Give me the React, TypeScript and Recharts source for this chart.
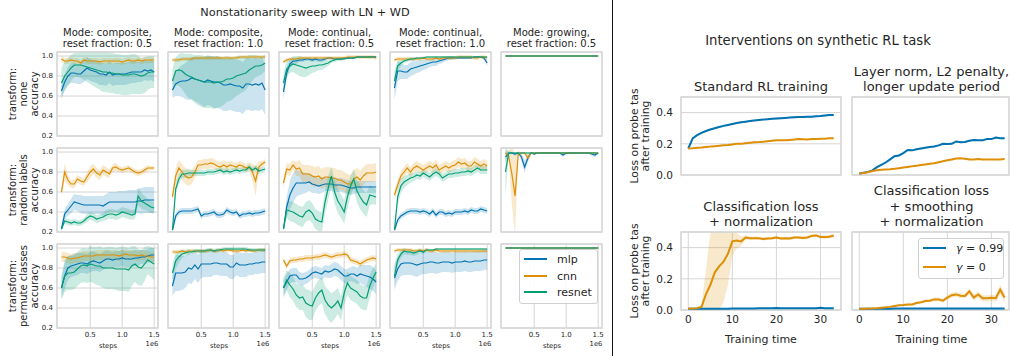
import React from 'react'
import { ComposedChart, Line, Area, XAxis, YAxis, CartesianGrid, ReferenceArea } from 'recharts'

const FONT = '"DejaVu Sans", sans-serif'
const INK = '#262626'
const GRID = '#d6d6d6'
const BLUE = '#0173b2'
const ORANGE = '#de8f05'
const GREEN = '#029e73'

// ---- left grid: x in units of 1e6 steps ----
const steps = [0.05, 0.1, 0.15, 0.2, 0.25, 0.3, 0.35, 0.4, 0.45, 0.5, 0.55, 0.6, 0.65, 0.7, 0.75, 0.8, 0.85, 0.9, 0.95, 1.0, 1.05, 1.1, 1.15, 1.2, 1.25, 1.3, 1.35, 1.4, 1.45, 1.5]

const modeTitles = [
  ['Mode: composite,', 'reset fraction: 0.5'],
  ['Mode: composite,', 'reset fraction: 1.0'],
  ['Mode: continual,', 'reset fraction: 0.5'],
  ['Mode: continual,', 'reset fraction: 1.0'],
  ['Mode: growing,', 'reset fraction: 0.5'],
]
const rowLabels = [
  ['transform:', 'none', 'accuracy'],
  ['transform:', 'random labels', 'accuracy'],
  ['transform:', 'permute classes', 'accuracy'],
]

const flatTop = [1.0, 1.0, 1.0, 1.0, 1.0, 1.0, 1.0, 1.0, 1.0, 1.0, 1.0, 1.0, 1.0, 1.0, 1.0, 1.0, 1.0, 1.0, 1.0, 1.0, 1.0, 1.0, 1.0, 1.0, 1.0, 1.0, 1.0, 1.0, 1.0, 1.0]
const sdThin = [0.002, 0.002, 0.002, 0.002, 0.002, 0.002, 0.002, 0.002, 0.002, 0.002, 0.002, 0.002, 0.002, 0.002, 0.002, 0.002, 0.002, 0.002, 0.002, 0.002, 0.002, 0.002, 0.002, 0.002, 0.002, 0.002, 0.002, 0.002, 0.002, 0.002]
const sdSmall = [0.02, 0.02, 0.02, 0.02, 0.02, 0.02, 0.02, 0.02, 0.02, 0.02, 0.02, 0.02, 0.02, 0.02, 0.02, 0.02, 0.02, 0.02, 0.02, 0.02, 0.02, 0.02, 0.02, 0.02, 0.02, 0.02, 0.02, 0.02, 0.02, 0.02]
const sdMid = [0.03, 0.03, 0.03, 0.03, 0.03, 0.03, 0.03, 0.03, 0.03, 0.03, 0.03, 0.03, 0.03, 0.03, 0.03, 0.03, 0.03, 0.03, 0.03, 0.03, 0.03, 0.03, 0.03, 0.03, 0.03, 0.03, 0.03, 0.03, 0.03, 0.03]
const sdWide = [0.05, 0.05, 0.05, 0.05, 0.05, 0.05, 0.05, 0.05, 0.05, 0.05, 0.05, 0.05, 0.05, 0.05, 0.05, 0.05, 0.05, 0.05, 0.05, 0.05, 0.05, 0.05, 0.05, 0.05, 0.05, 0.05, 0.05, 0.05, 0.05, 0.05]

// row 1: transform none
const mlpNone = [
  [0.65, 0.74, 0.80, 0.83, 0.83, 0.82, 0.82, 0.85, 0.88, 0.86, 0.85, 0.84, 0.82, 0.82, 0.81, 0.84, 0.81, 0.82, 0.82, 0.82, 0.82, 0.83, 0.84, 0.84, 0.84, 0.84, 0.86, 0.85, 0.86, 0.84],
  [0.66, 0.72, 0.74, 0.75, 0.75, 0.76, 0.78, 0.77, 0.76, 0.75, 0.74, 0.76, 0.75, 0.74, 0.74, 0.73, 0.71, 0.71, 0.72, 0.71, 0.70, 0.70, 0.68, 0.72, 0.72, 0.71, 0.72, 0.71, 0.73, 0.66],
  [0.64, 0.83, 0.92, 0.95, 0.95, 0.96, 0.96, 0.97, 0.97, 0.96, 0.97, 0.96, 0.96, 0.97, 0.98, 0.98, 0.97, 0.97, 0.97, 0.98, 0.98, 0.98, 0.98, 0.99, 0.99, 0.99, 0.99, 0.99, 0.99, 0.99],
  [0.68, 0.85, 0.85, 0.84, 0.84, 0.87, 0.88, 0.89, 0.90, 0.91, 0.92, 0.93, 0.94, 0.94, 0.95, 0.96, 0.97, 0.98, 0.98, 0.98, 0.98, 0.98, 0.98, 0.98, 0.98, 0.99, 0.99, 0.99, 0.98, 0.93],
  flatTop,
]
const mlpNoneSd = [
  [0.07, 0.08, 0.09, 0.10, 0.10, 0.10, 0.10, 0.11, 0.11, 0.11, 0.11, 0.11, 0.11, 0.11, 0.11, 0.11, 0.11, 0.11, 0.11, 0.11, 0.11, 0.11, 0.11, 0.11, 0.10, 0.10, 0.10, 0.10, 0.10, 0.10],
  [0.08, 0.12, 0.14, 0.16, 0.18, 0.20, 0.21, 0.22, 0.23, 0.24, 0.25, 0.25, 0.25, 0.26, 0.26, 0.26, 0.26, 0.26, 0.26, 0.26, 0.26, 0.26, 0.26, 0.26, 0.26, 0.26, 0.26, 0.26, 0.26, 0.25],
  [0.08, 0.06, 0.04, 0.03, 0.03, 0.02, 0.02, 0.02, 0.02, 0.02, 0.02, 0.02, 0.02, 0.02, 0.01, 0.01, 0.01, 0.01, 0.01, 0.01, 0.01, 0.01, 0.01, 0.01, 0.01, 0.01, 0.01, 0.01, 0.01, 0.01],
  [0.12, 0.10, 0.08, 0.07, 0.07, 0.07, 0.07, 0.06, 0.06, 0.05, 0.05, 0.04, 0.04, 0.04, 0.03, 0.03, 0.02, 0.02, 0.02, 0.01, 0.01, 0.01, 0.01, 0.01, 0.01, 0.01, 0.01, 0.01, 0.02, 0.03],
  sdThin,
]
const cnnNone = [
  [0.97, 0.95, 0.95, 0.96, 0.95, 0.95, 0.93, 0.96, 0.95, 0.95, 0.95, 0.95, 0.94, 0.95, 0.95, 0.95, 0.95, 0.95, 0.95, 0.94, 0.95, 0.96, 0.95, 0.95, 0.96, 0.95, 0.96, 0.96, 0.96, 0.96],
  [0.96, 0.96, 0.96, 0.97, 0.97, 0.97, 0.97, 0.98, 0.98, 0.98, 0.98, 0.98, 0.98, 0.98, 0.98, 0.98, 0.98, 0.98, 0.98, 0.98, 0.98, 0.99, 0.99, 0.99, 0.99, 0.99, 0.99, 0.99, 0.99, 0.99],
  [0.94, 0.96, 0.97, 0.97, 0.97, 0.98, 0.98, 0.98, 0.98, 0.98, 0.98, 0.98, 0.98, 0.98, 0.98, 0.98, 0.98, 0.98, 0.98, 0.98, 0.99, 0.99, 0.99, 0.99, 0.99, 0.99, 0.99, 0.99, 0.99, 0.98],
  [0.96, 0.97, 0.97, 0.97, 0.97, 0.97, 0.97, 0.97, 0.97, 0.98, 0.97, 0.97, 0.97, 0.98, 0.97, 0.98, 0.98, 0.98, 0.98, 0.98, 0.99, 0.99, 0.99, 0.99, 0.99, 0.98, 0.98, 0.99, 0.99, 0.98],
  flatTop,
]
const cnnNoneSd = [sdMid, sdSmall, sdSmall, sdSmall, sdThin]
const resnetNone = [
  [0.73, 0.80, 0.84, 0.88, 0.91, 0.91, 0.91, 0.90, 0.89, 0.88, 0.87, 0.86, 0.85, 0.84, 0.84, 0.83, 0.83, 0.82, 0.82, 0.81, 0.81, 0.81, 0.82, 0.82, 0.81, 0.80, 0.81, 0.83, 0.84, 0.84],
  [0.75, 0.85, 0.86, 0.85, 0.82, 0.80, 0.79, 0.77, 0.76, 0.75, 0.74, 0.74, 0.74, 0.73, 0.74, 0.74, 0.75, 0.77, 0.77, 0.78, 0.80, 0.81, 0.82, 0.83, 0.86, 0.88, 0.90, 0.90, 0.91, 0.93],
  [0.73, 0.87, 0.90, 0.92, 0.91, 0.90, 0.89, 0.88, 0.89, 0.90, 0.90, 0.91, 0.91, 0.92, 0.93, 0.95, 0.96, 0.97, 0.97, 0.97, 0.98, 0.98, 0.98, 0.99, 0.99, 0.99, 0.99, 0.99, 0.99, 0.99],
  [0.75, 0.90, 0.93, 0.95, 0.96, 0.97, 0.97, 0.98, 0.98, 0.98, 0.99, 0.99, 0.99, 0.99, 0.99, 0.99, 0.99, 0.99, 0.99, 0.99, 0.99, 0.99, 0.99, 0.99, 0.99, 0.99, 0.99, 0.99, 0.99, 0.99],
  flatTop,
]
const resnetNoneSd = [
  [0.15, 0.15, 0.14, 0.13, 0.12, 0.12, 0.13, 0.14, 0.15, 0.16, 0.17, 0.18, 0.19, 0.20, 0.20, 0.20, 0.20, 0.20, 0.20, 0.20, 0.20, 0.20, 0.20, 0.20, 0.19, 0.18, 0.18, 0.17, 0.16, 0.16],
  [0.12, 0.14, 0.16, 0.18, 0.20, 0.22, 0.23, 0.24, 0.25, 0.26, 0.26, 0.26, 0.26, 0.26, 0.26, 0.25, 0.24, 0.23, 0.22, 0.21, 0.20, 0.19, 0.18, 0.17, 0.15, 0.13, 0.11, 0.10, 0.09, 0.08],
  [0.10, 0.08, 0.07, 0.08, 0.09, 0.10, 0.10, 0.09, 0.08, 0.07, 0.06, 0.05, 0.05, 0.04, 0.03, 0.02, 0.02, 0.02, 0.02, 0.01, 0.01, 0.01, 0.01, 0.01, 0.01, 0.01, 0.01, 0.01, 0.01, 0.01],
  [0.10, 0.05, 0.03, 0.02, 0.02, 0.02, 0.02, 0.01, 0.01, 0.01, 0.01, 0.01, 0.01, 0.01, 0.01, 0.01, 0.01, 0.01, 0.01, 0.01, 0.01, 0.01, 0.01, 0.01, 0.01, 0.01, 0.01, 0.01, 0.01, 0.01],
  sdThin,
]

// row 2: transform random labels
const mlpRandom = [
  [0.23, 0.38, 0.42, 0.46, 0.50, 0.49, 0.48, 0.47, 0.47, 0.47, 0.47, 0.47, 0.47, 0.46, 0.48, 0.50, 0.50, 0.50, 0.50, 0.50, 0.50, 0.50, 0.50, 0.50, 0.51, 0.51, 0.52, 0.52, 0.52, 0.52],
  [0.22, 0.36, 0.40, 0.41, 0.41, 0.41, 0.41, 0.42, 0.43, 0.36, 0.38, 0.38, 0.39, 0.40, 0.37, 0.37, 0.38, 0.42, 0.40, 0.39, 0.40, 0.36, 0.38, 0.38, 0.39, 0.38, 0.39, 0.39, 0.40, 0.41],
  [0.23, 0.45, 0.57, 0.64, 0.69, 0.69, 0.69, 0.69, 0.70, 0.68, 0.67, 0.66, 0.67, 0.68, 0.68, 0.68, 0.67, 0.67, 0.67, 0.66, 0.65, 0.64, 0.64, 0.65, 0.65, 0.65, 0.65, 0.65, 0.65, 0.65],
  [0.22, 0.32, 0.36, 0.38, 0.40, 0.41, 0.41, 0.41, 0.40, 0.41, 0.40, 0.38, 0.41, 0.37, 0.40, 0.40, 0.38, 0.39, 0.38, 0.40, 0.40, 0.40, 0.41, 0.40, 0.42, 0.41, 0.41, 0.43, 0.42, 0.41],
  [0.95, 0.99, 0.99, 0.98, 0.99, 0.95, 0.85, 0.94, 0.99, 0.98, 0.99, 0.99, 0.99, 0.99, 0.99, 0.99, 0.99, 0.99, 0.97, 0.99, 0.99, 0.99, 0.99, 0.99, 0.99, 0.99, 0.99, 0.98, 0.97, 0.99],
]
const mlpRandomSd = [
  [0.02, 0.05, 0.06, 0.07, 0.08, 0.08, 0.09, 0.09, 0.09, 0.09, 0.09, 0.09, 0.09, 0.10, 0.10, 0.10, 0.10, 0.10, 0.11, 0.11, 0.11, 0.12, 0.12, 0.12, 0.12, 0.13, 0.13, 0.13, 0.13, 0.13],
  sdMid,
  [0.02, 0.10, 0.14, 0.15, 0.14, 0.12, 0.11, 0.10, 0.09, 0.09, 0.08, 0.08, 0.08, 0.07, 0.07, 0.07, 0.07, 0.07, 0.07, 0.07, 0.07, 0.07, 0.06, 0.06, 0.06, 0.06, 0.06, 0.06, 0.06, 0.06],
  sdMid,
  [0.05, 0.01, 0.01, 0.02, 0.01, 0.04, 0.06, 0.04, 0.01, 0.01, 0.01, 0.01, 0.01, 0.01, 0.01, 0.01, 0.01, 0.01, 0.02, 0.01, 0.01, 0.01, 0.01, 0.01, 0.01, 0.01, 0.01, 0.02, 0.02, 0.01],
]
const cnnRandom = [
  [0.60, 0.80, 0.72, 0.68, 0.68, 0.73, 0.71, 0.70, 0.75, 0.80, 0.83, 0.79, 0.77, 0.82, 0.80, 0.78, 0.84, 0.85, 0.83, 0.82, 0.83, 0.84, 0.82, 0.80, 0.79, 0.80, 0.82, 0.84, 0.84, 0.84],
  [0.55, 0.76, 0.84, 0.80, 0.76, 0.74, 0.75, 0.80, 0.87, 0.87, 0.88, 0.88, 0.89, 0.88, 0.86, 0.85, 0.87, 0.85, 0.87, 0.86, 0.85, 0.87, 0.86, 0.84, 0.85, 0.80, 0.71, 0.85, 0.88, 0.90],
  [0.69, 0.83, 0.82, 0.87, 0.83, 0.84, 0.78, 0.78, 0.78, 0.76, 0.75, 0.76, 0.73, 0.75, 0.75, 0.74, 0.74, 0.72, 0.72, 0.70, 0.68, 0.68, 0.73, 0.75, 0.72, 0.76, 0.79, 0.79, 0.79, 0.80],
  [0.57, 0.67, 0.76, 0.80, 0.84, 0.80, 0.84, 0.86, 0.84, 0.82, 0.84, 0.86, 0.84, 0.87, 0.82, 0.84, 0.86, 0.84, 0.86, 0.87, 0.90, 0.88, 0.89, 0.86, 0.86, 0.90, 0.88, 0.86, 0.88, 0.86],
  [0.99, 0.96, 0.78, 0.56, 0.98, 0.99, 0.99, 0.94, 0.99, 0.99, 0.99, 0.99, 0.99, 0.99, 0.99, 0.99, 0.99, 0.99, 0.99, 0.99, 0.99, 0.99, 0.99, 0.99, 0.99, 0.99, 0.99, 0.99, 0.99, 0.99],
]
const cnnRandomSd = [
  [0.04, 0.09, 0.05, 0.04, 0.04, 0.04, 0.04, 0.04, 0.05, 0.06, 0.05, 0.05, 0.05, 0.05, 0.05, 0.04, 0.04, 0.04, 0.03, 0.03, 0.03, 0.03, 0.03, 0.03, 0.03, 0.03, 0.03, 0.03, 0.02, 0.02],
  [0.05, 0.08, 0.08, 0.08, 0.08, 0.08, 0.07, 0.06, 0.05, 0.05, 0.05, 0.05, 0.05, 0.05, 0.05, 0.05, 0.05, 0.05, 0.04, 0.04, 0.04, 0.04, 0.04, 0.04, 0.05, 0.08, 0.15, 0.06, 0.03, 0.03],
  [0.05, 0.06, 0.06, 0.05, 0.07, 0.08, 0.09, 0.09, 0.09, 0.10, 0.10, 0.10, 0.10, 0.10, 0.10, 0.10, 0.10, 0.10, 0.10, 0.10, 0.10, 0.09, 0.09, 0.09, 0.09, 0.09, 0.09, 0.09, 0.09, 0.09],
  sdWide,
  [0.03, 0.05, 0.30, 0.40, 0.03, 0.01, 0.01, 0.04, 0.01, 0.01, 0.01, 0.01, 0.01, 0.01, 0.01, 0.01, 0.01, 0.01, 0.01, 0.01, 0.01, 0.01, 0.01, 0.01, 0.01, 0.01, 0.01, 0.01, 0.01, 0.01],
]
const resnetRandom = [
  [0.23, 0.31, 0.30, 0.29, 0.30, 0.29, 0.29, 0.31, 0.34, 0.36, 0.35, 0.33, 0.34, 0.35, 0.37, 0.38, 0.38, 0.37, 0.38, 0.40, 0.39, 0.38, 0.37, 0.38, 0.56, 0.51, 0.49, 0.47, 0.45, 0.44],
  [0.22, 0.63, 0.73, 0.78, 0.78, 0.79, 0.79, 0.79, 0.79, 0.79, 0.79, 0.80, 0.80, 0.80, 0.81, 0.82, 0.80, 0.81, 0.80, 0.81, 0.82, 0.81, 0.82, 0.82, 0.85, 0.82, 0.84, 0.81, 0.82, 0.83],
  [0.23, 0.42, 0.41, 0.40, 0.38, 0.36, 0.35, 0.40, 0.42, 0.39, 0.33, 0.31, 0.30, 0.50, 0.64, 0.76, 0.60, 0.51, 0.46, 0.40, 0.55, 0.66, 0.73, 0.61, 0.55, 0.50, 0.47, 0.57, 0.56, 0.55],
  [0.22, 0.55, 0.66, 0.70, 0.72, 0.74, 0.75, 0.77, 0.76, 0.79, 0.77, 0.75, 0.78, 0.80, 0.78, 0.74, 0.76, 0.78, 0.78, 0.79, 0.79, 0.80, 0.80, 0.81, 0.80, 0.82, 0.84, 0.82, 0.82, 0.82],
  [0.80, 0.99, 0.99, 0.99, 0.99, 0.99, 0.99, 0.99, 0.99, 0.99, 0.99, 0.99, 0.99, 0.99, 0.99, 0.99, 0.99, 0.99, 0.99, 0.99, 0.99, 0.99, 0.99, 0.99, 0.99, 0.99, 0.99, 0.99, 0.99, 0.99],
]
const resnetRandomSd = [
  [0.02, 0.03, 0.03, 0.03, 0.03, 0.03, 0.03, 0.03, 0.04, 0.04, 0.04, 0.04, 0.04, 0.04, 0.05, 0.05, 0.05, 0.05, 0.05, 0.05, 0.05, 0.05, 0.05, 0.05, 0.09, 0.08, 0.07, 0.06, 0.06, 0.06],
  [0.02, 0.06, 0.05, 0.04, 0.04, 0.04, 0.03, 0.03, 0.03, 0.03, 0.03, 0.03, 0.03, 0.03, 0.03, 0.03, 0.03, 0.03, 0.03, 0.03, 0.03, 0.03, 0.03, 0.03, 0.03, 0.03, 0.03, 0.03, 0.03, 0.03],
  [0.02, 0.08, 0.10, 0.10, 0.10, 0.10, 0.10, 0.10, 0.10, 0.10, 0.10, 0.10, 0.10, 0.12, 0.12, 0.10, 0.12, 0.12, 0.12, 0.12, 0.12, 0.10, 0.10, 0.12, 0.12, 0.12, 0.12, 0.10, 0.08, 0.08],
  [0.02, 0.08, 0.07, 0.06, 0.05, 0.05, 0.04, 0.04, 0.04, 0.04, 0.04, 0.04, 0.04, 0.04, 0.04, 0.04, 0.04, 0.04, 0.04, 0.04, 0.04, 0.04, 0.04, 0.04, 0.04, 0.04, 0.04, 0.04, 0.04, 0.04],
  [0.25, 0.02, 0.01, 0.01, 0.01, 0.01, 0.01, 0.01, 0.01, 0.01, 0.01, 0.01, 0.01, 0.01, 0.01, 0.01, 0.01, 0.01, 0.01, 0.01, 0.01, 0.01, 0.01, 0.01, 0.01, 0.01, 0.01, 0.01, 0.01, 0.01],
]

// row 3: transform permute classes
const mlpPermute = [
  [0.60, 0.72, 0.80, 0.82, 0.83, 0.84, 0.85, 0.85, 0.84, 0.86, 0.87, 0.86, 0.85, 0.87, 0.89, 0.89, 0.88, 0.89, 0.89, 0.90, 0.89, 0.89, 0.89, 0.90, 0.90, 0.91, 0.91, 0.92, 0.93, 0.93],
  [0.62, 0.75, 0.75, 0.75, 0.76, 0.80, 0.79, 0.83, 0.79, 0.84, 0.84, 0.84, 0.84, 0.85, 0.85, 0.84, 0.84, 0.84, 0.81, 0.81, 0.85, 0.83, 0.83, 0.83, 0.84, 0.84, 0.85, 0.85, 0.86, 0.86],
  [0.60, 0.66, 0.72, 0.73, 0.73, 0.69, 0.69, 0.70, 0.72, 0.75, 0.76, 0.75, 0.74, 0.77, 0.76, 0.77, 0.79, 0.78, 0.75, 0.72, 0.72, 0.74, 0.74, 0.72, 0.74, 0.73, 0.72, 0.71, 0.69, 0.66],
  [0.70, 0.79, 0.84, 0.85, 0.85, 0.85, 0.84, 0.83, 0.84, 0.85, 0.85, 0.86, 0.86, 0.85, 0.85, 0.86, 0.86, 0.86, 0.85, 0.86, 0.86, 0.86, 0.87, 0.86, 0.86, 0.87, 0.87, 0.87, 0.88, 0.88],
  flatTop,
]
const mlpPermuteSd = [
  [0.10, 0.13, 0.12, 0.11, 0.11, 0.11, 0.10, 0.10, 0.10, 0.10, 0.10, 0.09, 0.09, 0.09, 0.09, 0.08, 0.08, 0.08, 0.08, 0.08, 0.08, 0.08, 0.08, 0.08, 0.08, 0.07, 0.07, 0.07, 0.07, 0.07],
  [0.10, 0.18, 0.18, 0.17, 0.16, 0.15, 0.15, 0.14, 0.14, 0.14, 0.13, 0.13, 0.13, 0.12, 0.12, 0.12, 0.12, 0.12, 0.12, 0.12, 0.12, 0.12, 0.12, 0.12, 0.11, 0.11, 0.11, 0.11, 0.11, 0.11],
  [0.08, 0.08, 0.07, 0.07, 0.07, 0.07, 0.06, 0.06, 0.06, 0.06, 0.06, 0.06, 0.06, 0.06, 0.06, 0.07, 0.07, 0.07, 0.07, 0.07, 0.07, 0.07, 0.08, 0.08, 0.09, 0.10, 0.11, 0.12, 0.12, 0.12],
  [0.12, 0.12, 0.12, 0.12, 0.12, 0.12, 0.12, 0.12, 0.11, 0.11, 0.11, 0.11, 0.11, 0.11, 0.10, 0.10, 0.10, 0.10, 0.10, 0.10, 0.10, 0.10, 0.10, 0.10, 0.10, 0.10, 0.10, 0.10, 0.10, 0.10],
  sdThin,
]
const cnnPermute = [
  [0.91, 0.91, 0.90, 0.89, 0.90, 0.90, 0.91, 0.92, 0.92, 0.92, 0.92, 0.93, 0.93, 0.93, 0.93, 0.93, 0.93, 0.93, 0.92, 0.93, 0.94, 0.93, 0.93, 0.93, 0.92, 0.93, 0.92, 0.92, 0.91, 0.91],
  [0.96, 0.96, 0.96, 0.97, 0.96, 0.97, 0.97, 0.97, 0.97, 0.97, 0.97, 0.97, 0.98, 0.97, 0.97, 0.98, 0.97, 0.98, 0.98, 0.97, 0.97, 0.97, 0.98, 0.97, 0.98, 0.97, 0.97, 0.98, 0.98, 0.98],
  [0.88, 0.82, 0.87, 0.88, 0.88, 0.89, 0.89, 0.90, 0.90, 0.90, 0.91, 0.91, 0.92, 0.93, 0.92, 0.91, 0.92, 0.93, 0.93, 0.94, 0.93, 0.88, 0.87, 0.86, 0.84, 0.86, 0.88, 0.89, 0.90, 0.89],
  [0.97, 0.98, 0.98, 0.98, 0.98, 0.98, 0.97, 0.97, 0.98, 0.97, 0.98, 0.97, 0.97, 0.98, 0.97, 0.97, 0.97, 0.97, 0.97, 0.97, 0.97, 0.97, 0.97, 0.97, 0.97, 0.97, 0.97, 0.97, 0.97, 0.97],
  flatTop,
]
const cnnPermuteSd = [sdWide, sdSmall, sdMid, sdSmall, sdThin]
const resnetPermute = [
  [0.60, 0.72, 0.75, 0.75, 0.76, 0.79, 0.82, 0.83, 0.82, 0.84, 0.83, 0.82, 0.82, 0.80, 0.80, 0.80, 0.80, 0.79, 0.79, 0.79, 0.79, 0.78, 0.82, 0.84, 0.81, 0.80, 0.84, 0.88, 0.86, 0.84],
  [0.75, 0.87, 0.91, 0.94, 0.95, 0.96, 0.96, 0.97, 0.97, 0.97, 0.97, 0.98, 0.98, 0.97, 0.98, 0.98, 0.99, 0.99, 0.99, 0.99, 0.99, 0.99, 0.99, 0.99, 0.98, 0.98, 0.98, 0.98, 0.98, 0.98],
  [0.60, 0.68, 0.63, 0.59, 0.53, 0.50, 0.51, 0.45, 0.43, 0.42, 0.50, 0.55, 0.58, 0.48, 0.43, 0.40, 0.43, 0.47, 0.40, 0.55, 0.65, 0.60, 0.58, 0.56, 0.52, 0.50, 0.50, 0.62, 0.70, 0.76],
  [0.72, 0.88, 0.94, 0.97, 0.96, 0.96, 0.95, 0.96, 0.97, 0.96, 0.98, 0.98, 0.98, 0.99, 0.99, 0.99, 0.99, 0.99, 0.99, 0.99, 0.99, 0.99, 0.99, 0.99, 0.99, 0.99, 0.99, 0.99, 0.99, 0.99],
  flatTop,
]
const resnetPermuteSd = [
  [0.12, 0.16, 0.17, 0.17, 0.17, 0.17, 0.17, 0.17, 0.17, 0.18, 0.18, 0.19, 0.20, 0.20, 0.21, 0.21, 0.21, 0.21, 0.22, 0.22, 0.22, 0.22, 0.20, 0.18, 0.18, 0.18, 0.17, 0.14, 0.15, 0.16],
  [0.10, 0.08, 0.06, 0.04, 0.03, 0.03, 0.02, 0.02, 0.02, 0.02, 0.02, 0.02, 0.02, 0.02, 0.02, 0.02, 0.02, 0.02, 0.02, 0.02, 0.02, 0.02, 0.02, 0.02, 0.02, 0.02, 0.02, 0.02, 0.02, 0.02],
  [0.10, 0.10, 0.12, 0.12, 0.12, 0.12, 0.13, 0.14, 0.15, 0.14, 0.13, 0.13, 0.13, 0.14, 0.15, 0.15, 0.14, 0.13, 0.12, 0.12, 0.12, 0.12, 0.12, 0.12, 0.12, 0.12, 0.12, 0.12, 0.10, 0.08],
  [0.12, 0.06, 0.04, 0.03, 0.03, 0.03, 0.03, 0.03, 0.02, 0.02, 0.02, 0.01, 0.01, 0.01, 0.01, 0.01, 0.01, 0.01, 0.01, 0.01, 0.01, 0.01, 0.01, 0.01, 0.01, 0.01, 0.01, 0.01, 0.01, 0.01],
  sdThin,
]

// ---- right panels: training time ----
const time = [0, 1, 2, 3, 4, 5, 6, 7, 8, 9, 10, 11, 12, 13, 14, 15, 16, 17, 18, 19, 20, 21, 22, 23, 24, 25, 26, 27, 28, 29, 30, 31, 32, 33]
const standardG99 = [0.17, 0.235, 0.255, 0.27, 0.282, 0.292, 0.30, 0.308, 0.315, 0.321, 0.327, 0.333, 0.338, 0.342, 0.346, 0.35, 0.353, 0.355, 0.358, 0.36, 0.362, 0.364, 0.366, 0.368, 0.37, 0.371, 0.372, 0.373, 0.374, 0.376, 0.378, 0.381, 0.384, 0.385]
const standardG0 = [0.17, 0.172, 0.175, 0.177, 0.18, 0.182, 0.185, 0.187, 0.19, 0.192, 0.196, 0.2, 0.2, 0.204, 0.207, 0.21, 0.211, 0.213, 0.216, 0.219, 0.222, 0.223, 0.222, 0.225, 0.227, 0.23, 0.229, 0.228, 0.231, 0.23, 0.232, 0.233, 0.235, 0.236]
const layerNormG99 = [0.01, 0.015, 0.02, 0.03, 0.05, 0.065, 0.08, 0.1, 0.12, 0.125, 0.14, 0.16, 0.158, 0.165, 0.17, 0.175, 0.18, 0.183, 0.19, 0.2, 0.198, 0.2, 0.215, 0.21, 0.212, 0.22, 0.225, 0.222, 0.222, 0.23, 0.23, 0.24, 0.235, 0.235]
const layerNormG0 = [0.01, 0.013, 0.018, 0.025, 0.03, 0.033, 0.035, 0.037, 0.04, 0.044, 0.048, 0.052, 0.056, 0.06, 0.064, 0.068, 0.072, 0.076, 0.082, 0.088, 0.094, 0.1, 0.106, 0.108, 0.104, 0.1, 0.1, 0.102, 0.1, 0.1, 0.1, 0.1, 0.1, 0.102]
const clsNormG99 = [0.008, 0.008, 0.008, 0.008, 0.008, 0.008, 0.008, 0.008, 0.008, 0.008, 0.009, 0.009, 0.009, 0.009, 0.009, 0.009, 0.011, 0.012, 0.012, 0.011, 0.013, 0.012, 0.011, 0.012, 0.011, 0.011, 0.012, 0.011, 0.012, 0.012, 0.014, 0.012, 0.011, 0.011]
const clsNormG0 = [0.01, 0.01, 0.012, 0.02, 0.1, 0.16, 0.24, 0.28, 0.31, 0.36, 0.44, 0.445, 0.44, 0.465, 0.46, 0.46, 0.46, 0.455, 0.458, 0.46, 0.465, 0.458, 0.46, 0.458, 0.465, 0.465, 0.462, 0.465, 0.475, 0.478, 0.468, 0.468, 0.47, 0.478]
const clsSmoothG99 = [0.008, 0.008, 0.008, 0.008, 0.008, 0.008, 0.008, 0.008, 0.009, 0.009, 0.009, 0.009, 0.009, 0.009, 0.009, 0.009, 0.009, 0.009, 0.009, 0.009, 0.009, 0.009, 0.009, 0.009, 0.009, 0.009, 0.009, 0.01, 0.01, 0.01, 0.01, 0.01, 0.01, 0.01]
const clsSmoothG0 = [0.008, 0.008, 0.01, 0.01, 0.012, 0.015, 0.017, 0.02, 0.025, 0.03, 0.032, 0.035, 0.035, 0.045, 0.05, 0.058, 0.06, 0.068, 0.068, 0.06, 0.08, 0.095, 0.1, 0.092, 0.09, 0.12, 0.08, 0.1, 0.075, 0.075, 0.078, 0.075, 0.13, 0.08]
const rlSdTiny = [0.003, 0.003, 0.003, 0.003, 0.003, 0.003, 0.003, 0.003, 0.003, 0.003, 0.003, 0.003, 0.003, 0.003, 0.003, 0.003, 0.003, 0.003, 0.003, 0.003, 0.003, 0.003, 0.003, 0.003, 0.003, 0.003, 0.003, 0.003, 0.003, 0.003, 0.003, 0.003, 0.003, 0.003]
const rlSdSmall = [0.002, 0.004, 0.005, 0.006, 0.006, 0.006, 0.006, 0.006, 0.006, 0.006, 0.006, 0.006, 0.006, 0.006, 0.006, 0.006, 0.006, 0.006, 0.006, 0.006, 0.006, 0.006, 0.006, 0.006, 0.006, 0.006, 0.006, 0.006, 0.006, 0.006, 0.006, 0.006, 0.006, 0.006]
const clsNormG0Sd = [0.003, 0.003, 0.004, 0.01, 0.16, 0.33, 0.3, 0.28, 0.26, 0.2, 0.09, 0.05, 0.03, 0.015, 0.01, 0.01, 0.01, 0.01, 0.01, 0.01, 0.01, 0.01, 0.01, 0.01, 0.01, 0.01, 0.01, 0.01, 0.01, 0.01, 0.01, 0.01, 0.01, 0.01]
const clsSmoothG0Sd = [0.002, 0.002, 0.003, 0.003, 0.003, 0.004, 0.004, 0.005, 0.005, 0.006, 0.006, 0.007, 0.007, 0.008, 0.008, 0.01, 0.01, 0.012, 0.012, 0.012, 0.015, 0.015, 0.015, 0.015, 0.015, 0.02, 0.02, 0.02, 0.02, 0.02, 0.02, 0.02, 0.03, 0.03]

type Series = { key: string; mean: number[]; sd: number[]; color: string }

type PanelProps = {
  x: number; y: number; w: number; h: number
  xs: number[]; series: Series[]
  xDomain: [number, number]; yDomain: [number, number]
  xTicks: number[]; yTicks: number[]
  showX: boolean; showY: boolean
  yw: number; xh: number; fontSize: number; lineW: number
  yMargin: number; xMargin: number
  fmtX: (v: number) => string; fmtY: (v: number) => string
}

function Panel(p: PanelProps) {
  const m = 7
  const data = p.xs.map((v, i) => {
    const row: any = { x: v }
    p.series.forEach(s => {
      row[s.key] = s.mean[i]
      row[s.key + 'Band'] = [s.mean[i] - s.sd[i], s.mean[i] + s.sd[i]]
    })
    return row
  })
  const yW = p.showY ? p.yw : 0
  const xH = p.showX ? p.xh : 0
  const tick = { fontSize: p.fontSize, fill: INK, fontFamily: FONT }
  return (
    <div style={{ position: 'absolute', left: p.x - yW - m, top: p.y - m }}>
      <ComposedChart width={p.w + yW + 2 * m} height={p.h + xH + 2 * m} data={data}
        margin={{ top: m, right: m, bottom: m, left: m }}>
        <CartesianGrid stroke={GRID} strokeWidth={1} />
        <XAxis type="number" dataKey="x" domain={p.xDomain} ticks={p.xTicks} allowDataOverflow interval={0}
          height={xH} tick={p.showX ? tick : false} tickFormatter={p.fmtX}
          axisLine={false} tickLine={false} tickSize={0} tickMargin={p.xMargin} />
        <YAxis type="number" domain={p.yDomain} ticks={p.yTicks} allowDataOverflow interval={0}
          width={yW} tick={p.showY ? tick : false} tickFormatter={p.fmtY}
          axisLine={false} tickLine={false} tickSize={0} tickMargin={p.yMargin} />
        {p.series.map(s => (
          <Area key={s.key + 'Band'} dataKey={s.key + 'Band'} stroke="none" fill={s.color} fillOpacity={0.2}
            dot={false} activeDot={false} isAnimationActive={false} />
        ))}
        {p.series.map(s => (
          <Line key={s.key} dataKey={s.key} stroke={s.color} strokeWidth={p.lineW}
            dot={false} activeDot={false} isAnimationActive={false} />
        ))}
        <ReferenceArea x1={p.xDomain[0]} x2={p.xDomain[1]} y1={p.yDomain[0]} y2={p.yDomain[1]}
          fill="none" stroke={GRID} strokeWidth={1.3} ifOverflow="visible" />
      </ComposedChart>
    </div>
  )
}

function Txt({ x, y, size, children, rotate = false, align = 'center' }: any) {
  const tx = align === 'left' ? '0' : '-50%'
  return (
    <div style={{
      position: 'absolute', left: x, top: y, fontSize: size, lineHeight: 1, whiteSpace: 'nowrap',
      transform: `translate(${tx},-50%)${rotate ? ' rotate(-90deg)' : ''}`,
    }}>{children}</div>
  )
}

function LegendRow({ x, y, color, label, size }: any) {
  return (
    <>
      <div style={{ position: 'absolute', left: x, top: y - 1, width: 23, height: 2, background: color }} />
      <Txt x={x + 33} y={y} size={size} align="left">{label}</Txt>
    </>
  )
}

const colLefts = [57, 168, 279, 390, 501]
const rowTops = [52, 148, 244]
const rows = [
  { mlp: mlpNone, mlpSd: mlpNoneSd, cnn: cnnNone, cnnSd: cnnNoneSd, resnet: resnetNone, resnetSd: resnetNoneSd },
  { mlp: mlpRandom, mlpSd: mlpRandomSd, cnn: cnnRandom, cnnSd: cnnRandomSd, resnet: resnetRandom, resnetSd: resnetRandomSd },
  { mlp: mlpPermute, mlpSd: mlpPermuteSd, cnn: cnnPermute, cnnSd: cnnPermuteSd, resnet: resnetPermute, resnetSd: resnetPermuteSd },
]

const rlPanels = [
  { title: ['Standard RL training'], g99: standardG99, g99Sd: rlSdSmall, g0: standardG0, g0Sd: rlSdTiny },
  { title: ['Layer norm, L2 penalty,', 'longer update period'], g99: layerNormG99, g99Sd: rlSdSmall, g0: layerNormG0, g0Sd: rlSdTiny },
  { title: ['Classification loss', '+ normalization'], g99: clsNormG99, g99Sd: rlSdTiny, g0: clsNormG0, g0Sd: clsNormG0Sd },
  { title: ['Classification loss', '+ smoothing', '+ normalization'], g99: clsSmoothG99, g99Sd: rlSdTiny, g0: clsSmoothG0, g0Sd: clsSmoothG0Sd },
]
const rlLefts = [681, 852]
const rlWidths = [160, 157]
const rlTops = [97, 232]

export default function App() {
  return (
    <div style={{ position: 'absolute', left: 0, top: 0, width: 1011, height: 356, background: '#fff', overflow: 'hidden', fontFamily: FONT, color: INK }}>
      <Txt x={305} y={13} size={11.3}>Nonstationarity sweep with LN + WD</Txt>

      {modeTitles.map((t, c) => (
        <React.Fragment key={'mt' + c}>
          <Txt x={colLefts[c] + 50.5} y={33} size={10}>{t[0]}</Txt>
          <Txt x={colLefts[c] + 50.5} y={44} size={10}>{t[1]}</Txt>
        </React.Fragment>
      ))}
      {rowLabels.map((lines, r) => lines.map((l, k) => (
        <Txt key={'rl' + r + k} x={13 + k * 11} y={rowTops[r] + 42} size={10} rotate>{l}</Txt>
      )))}

      {rows.map((row, r) => colLefts.map((cx, c) => (
        <Panel key={'p' + r + c} x={cx} y={rowTops[r]} w={101} h={84} xs={steps}
          series={[
            { key: 'mlp', mean: row.mlp[c], sd: row.mlpSd[c], color: BLUE },
            { key: 'cnn', mean: row.cnn[c], sd: row.cnnSd[c], color: ORANGE },
            { key: 'resnet', mean: row.resnet[c], sd: row.resnetSd[c], color: GREEN },
          ]}
          xDomain={[-0.02, 1.56]} yDomain={[0.2, 1.04]} xTicks={[0.5, 1.0, 1.5]} yTicks={[0.2, 0.4, 0.6, 0.8, 1.0]}
          showX={r === 2} showY={c === 0} yw={26} xh={12} fontSize={7} lineW={1.2} yMargin={4} xMargin={4}
          fmtX={v => v.toFixed(1)} fmtY={v => v.toFixed(1)} />
      )))}
      {colLefts.map((cx, c) => (
        <React.Fragment key={'st' + c}>
          <Txt x={cx + 51} y={346} size={6.8}>steps</Txt>
          <Txt x={cx + 95} y={344} size={6.8}>1e6</Txt>
        </React.Fragment>
      ))}

      <div style={{ position: 'absolute', left: 519, top: 249, width: 77, height: 53, background: 'rgba(255,255,255,0.85)', border: '1px solid #d0d0d0', borderRadius: 3 }} />
      <LegendRow x={524} y={259} color={BLUE} label="mlp" size={11} />
      <LegendRow x={524} y={276} color={ORANGE} label="cnn" size={11} />
      <LegendRow x={524} y={292} color={GREEN} label="resnet" size={11} />

      <div style={{ position: 'absolute', left: 611.5, top: 0, width: 1.5, height: 356, background: '#111' }} />

      <Txt x={818} y={41} size={13.2}>Interventions on synthetic RL task</Txt>
      {rlPanels.map((pn, k) => {
        const r = Math.floor(k / 2)
        const c = k % 2
        const cx = rlLefts[c] + rlWidths[c] / 2 + (c === 1 ? 1 : 0)
        const n = pn.title.length
        return (
          <React.Fragment key={'rl' + k}>
            {pn.title.map((t, j) => (
              <Txt key={j} x={cx} y={rlTops[r] - 11 - (n - 1 - j) * 15.5} size={13}>{t}</Txt>
            ))}
            <Panel x={rlLefts[c]} y={rlTops[r]} w={rlWidths[c]} h={78} xs={time}
              series={[
                { key: 'g99', mean: pn.g99, sd: pn.g99Sd, color: BLUE },
                { key: 'g0', mean: pn.g0, sd: pn.g0Sd, color: ORANGE },
              ]}
              xDomain={[-1.65, c === 0 ? 34.65 : 34.0]} yDomain={[0, 0.5]} xTicks={[0, 10, 20, 30]} yTicks={[0, 0.2, 0.4]}
              showX={r === 1} showY={c === 0} yw={34} xh={20} fontSize={10.5} lineW={2} yMargin={8} xMargin={6}
              fmtX={v => String(v)} fmtY={v => v.toFixed(1)} />
            {r === 1 && <Txt x={cx} y={339} size={11}>Training time</Txt>}
          </React.Fragment>
        )
      })}
      {rlTops.map((t, r) => (
        <React.Fragment key={'yl' + r}>
          <Txt x={635} y={t + 39} size={10.8} rotate>Loss on probe tas</Txt>
          <Txt x={646} y={t + 39} size={10.8} rotate>after training</Txt>
        </React.Fragment>
      ))}

      <div style={{ position: 'absolute', left: 918, top: 238, width: 84, height: 39, background: 'rgba(255,255,255,0.85)', border: '1px solid #d0d0d0', borderRadius: 3 }} />
      <LegendRow x={923} y={248} color={BLUE} label={<span><i>γ</i> = 0.99</span>} size={11} />
      <LegendRow x={923} y={267} color={ORANGE} label={<span><i>γ</i> = 0</span>} size={11} />
    </div>
  )
}
